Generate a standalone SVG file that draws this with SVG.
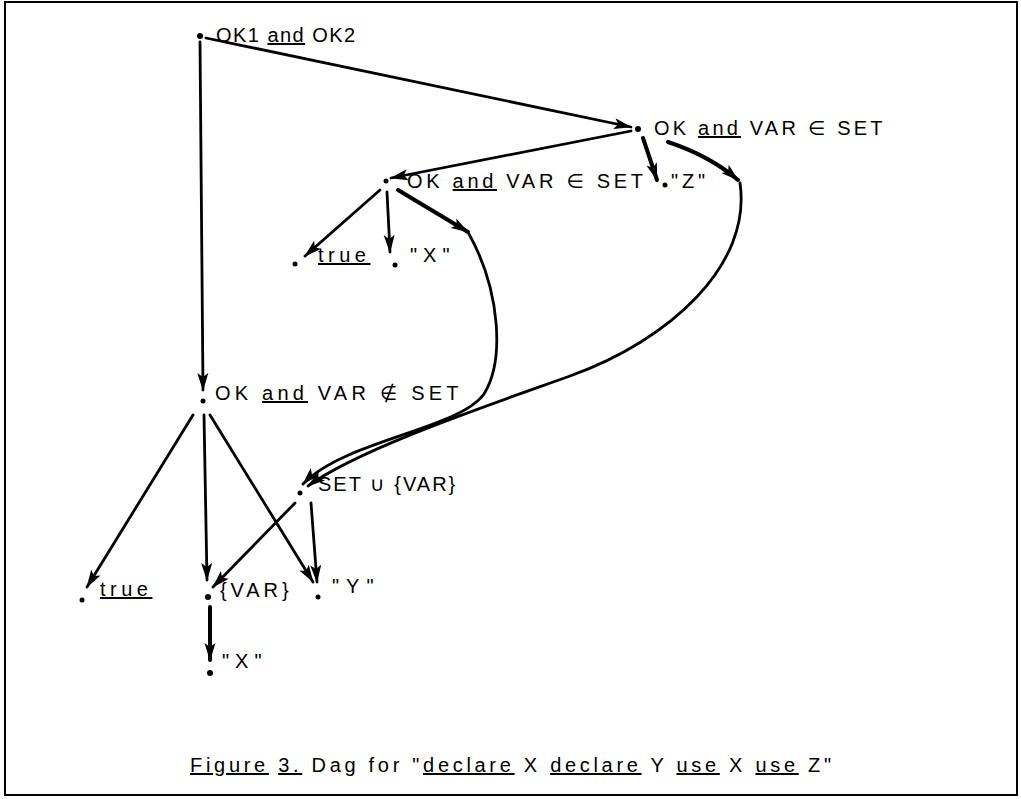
<svg xmlns="http://www.w3.org/2000/svg" width="1021" height="799" viewBox="0 0 1021 799">
<defs>
<marker id="ah" markerUnits="userSpaceOnUse" markerWidth="18" markerHeight="12" refX="17" refY="6" orient="auto">
<path d="M0,0.5 L18,6 L0,11.5 L4,6 Z" fill="#000"/>
</marker>
<style>
.t{font-family:"Liberation Sans","DejaVu Sans",sans-serif;font-size:20px;fill:#000}
.u{text-decoration:underline}
.e{fill:none;stroke:#000;stroke-width:2.8;stroke-linecap:round}
.h{fill:none;stroke:#000;stroke-width:4;stroke-linecap:round}
.d{fill:#000}
</style>
</defs>
<rect x="5" y="2" width="1012" height="793" fill="none" stroke="#000" stroke-width="2"/>
<g id="connectors">
<path class="e" d="M200,42 L203,390" marker-end="url(#ah)"/>
<path class="e" d="M206,38 L631,127" marker-end="url(#ah)"/>
<path class="e" d="M631,131 L391,178" marker-end="url(#ah)"/>
<path class="h" d="M643,138 L657,180" marker-end="url(#ah)"/>
<path class="h" d="M668,142 Q710,156 738,180" marker-end="url(#ah)"/>
<path class="e" d="M740,183 C752,265 670,340 570,376 C495,403 360,448 308,486" marker-end="url(#ah)"/>
<path class="h" d="M398,190 L468,232" marker-end="url(#ah)"/>
<path class="e" d="M469,234 C500,290 505,360 484,394 C458,430 345,440 303,484" marker-end="url(#ah)"/>
<path class="e" d="M380,190 L305,256" marker-end="url(#ah)"/>
<path class="e" d="M387,192 L390,252" marker-end="url(#ah)"/>
<path class="e" d="M193,415 L87,587" marker-end="url(#ah)"/>
<path class="e" d="M204,415 L207,580" marker-end="url(#ah)"/>
<path class="e" d="M210,415 L313,582" marker-end="url(#ah)"/>
<path class="e" d="M295,503 L213,587" marker-end="url(#ah)"/>
<path class="e" d="M311,503 L317,582" marker-end="url(#ah)"/>
<path class="h" d="M210,607 L210,660" marker-end="url(#ah)"/>
</g>
<g id="n1"><circle class="d" cx="200" cy="36" r="3"/><text class="t" x="216" y="42" style="letter-spacing:1.45px">OK1 <tspan class="u">and</tspan> OK2</text></g>
<g id="n2"><circle class="d" cx="638" cy="129" r="3"/><text class="t" x="654" y="135" style="letter-spacing:3.2px">OK <tspan class="u">and</tspan> VAR ∈ SET</text></g>
<g id="n3"><circle class="d" cx="386" cy="181" r="2.5"/><text class="t" x="407" y="188" style="letter-spacing:3.7px">OK <tspan class="u">and</tspan> VAR ∈ SET</text></g>
<g id="n4"><circle class="d" cx="665" cy="185" r="2.5"/><text class="t" x="671" y="188" style="letter-spacing:3.8px">"Z"</text></g>
<g id="n5"><circle class="d" cx="295" cy="264" r="2.5"/><text class="t u" x="318" y="262" style="letter-spacing:4.5px">true</text></g>
<g id="n6"><circle class="d" cx="395" cy="265" r="2.5"/><text class="t" x="410" y="262" style="letter-spacing:6px">"X"</text></g>
<g id="n7"><circle class="d" cx="203" cy="401" r="2.5"/><text class="t" x="215" y="400" style="letter-spacing:4.2px">OK <tspan class="u">and</tspan> VAR ∉ SET</text></g>
<g id="n8"><circle class="d" cx="300" cy="493" r="2.5"/><text class="t" x="318" y="491" style="letter-spacing:2px">SET ∪ {VAR}</text></g>
<g id="n9"><circle class="d" cx="82" cy="600" r="2.5"/><text class="t u" x="100" y="596" style="letter-spacing:4.5px">true</text></g>
<g id="n10"><circle class="d" cx="208" cy="597" r="3"/><text class="t" x="220" y="597" style="letter-spacing:3.9px">{VAR}</text></g>
<g id="n11"><circle class="d" cx="318" cy="597" r="2.5"/><text class="t" x="332" y="593" style="letter-spacing:7px">"Y"</text></g>
<g id="n12"><circle class="d" cx="210" cy="673" r="3"/><text class="t" x="222" y="668" style="letter-spacing:6px">"X"</text></g>
<g id="caption"><text class="t" x="190" y="772" style="letter-spacing:3.7px"><tspan class="u">Figure</tspan> <tspan class="u">3.</tspan> Dag for "<tspan class="u">declare</tspan> X <tspan class="u">declare</tspan> Y <tspan class="u">use</tspan> X <tspan class="u">use</tspan> Z"</text></g>
</svg>
